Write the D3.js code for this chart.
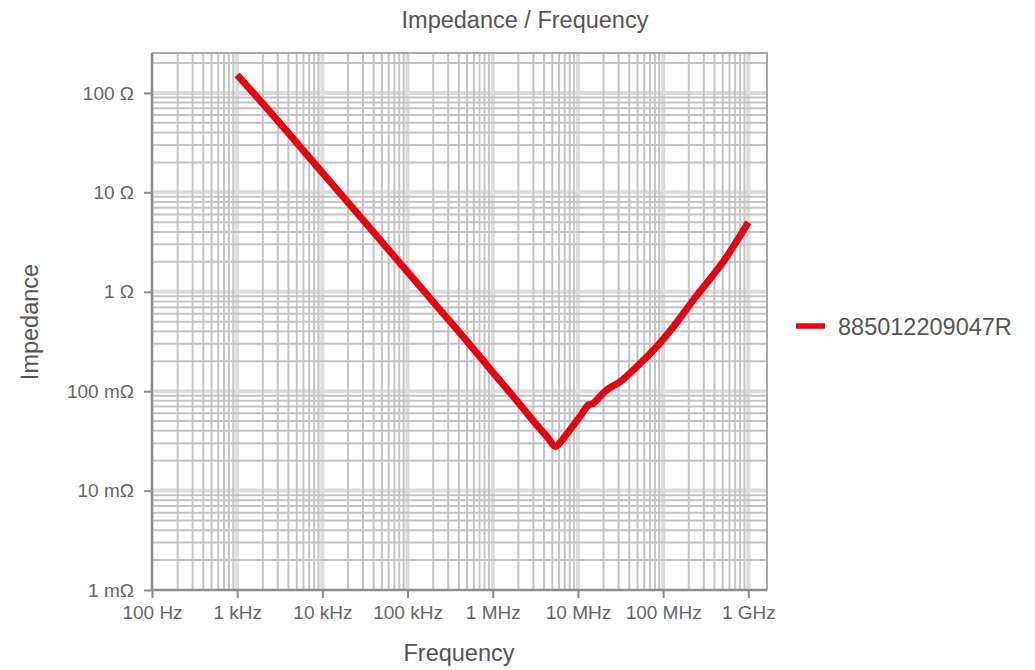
<!DOCTYPE html>
<html>
<head>
<meta charset="utf-8">
<script src="https://cdn.jsdelivr.net/npm/d3@7"></script>
<style>
  html, body { margin: 0; padding: 0; background: #fff; }
  svg text { font-family: "Liberation Sans", Arial, sans-serif; }
</style>
</head>
<body>
<svg id="chart" width="1035" height="670"></svg>
<script>
// Impedance curve of 885012209047R (frequency in Hz, impedance in ohms)
const frequency = [
  1e3, 2e3, 5e3, 1e4, 2e4, 5e4, 1e5, 2e5, 5e5, 1e6,
  1.75e6, 2.5e6, 3.5e6, 4.5e6, 5.4e6, 6.3e6, 7.06e6, 9e6, 11e6, 13.3e6,
  15.2e6, 18e6, 21.8e6, 31.3e6, 49e6, 84e6, 132e6, 226e6, 557e6, 1e9
];
const impedance = [
  152, 78, 31.5, 15.7, 7.9, 3.17, 1.58, 0.79, 0.316, 0.155,
  0.088, 0.0607, 0.0429, 0.0335, 0.0277, 0.031, 0.0352, 0.0462, 0.0583, 0.0726,
  0.0755, 0.088, 0.1028, 0.1245, 0.176, 0.28, 0.445, 0.826, 2.25, 5.0
];
const seriesName = "885012209047R";

const xTickValues = [1e2, 1e3, 1e4, 1e5, 1e6, 1e7, 1e8, 1e9];
const xTickLabels = ["100 Hz", "1 kHz", "10 kHz", "100 kHz", "1 MHz", "10 MHz", "100 MHz", "1 GHz"];
const yTickValues = [1e-3, 1e-2, 1e-1, 1, 10, 100];
const yTickLabels = ["1 mΩ", "10 mΩ", "100 mΩ", "1 Ω", "10 Ω", "100 Ω"];
const xDomain = [100, 1.656e9];
const yDomain = [1e-3, 252];

const svg = d3.select("#chart");
const plot = { left: 152, right: 767, top: 53, bottom: 590 };

const x = d3.scaleLog().domain(xDomain).range([plot.left, plot.right]);
const y = d3.scaleLog().domain(yDomain).range([plot.bottom, plot.top]);

const isDecade = v => Math.abs(Math.log10(v) - Math.round(Math.log10(v))) < 1e-9;

// grid: minor lines at 2..9 of each decade, wider lighter lines at decades
const grid = svg.append("g");
const xGrid = x.ticks().filter(v => v > xDomain[0] && v < xDomain[1]);
const yGrid = y.ticks().filter(v => v > yDomain[0] && v < yDomain[1]);

grid.selectAll("line.vmaj").data(xGrid.filter(isDecade)).join("line")
  .attr("x1", d => x(d)).attr("x2", d => x(d))
  .attr("y1", plot.top).attr("y2", plot.bottom)
  .attr("stroke", "#dcdcdc").attr("stroke-width", 4);
grid.selectAll("line.hmaj").data(yGrid.filter(isDecade)).join("line")
  .attr("y1", d => y(d)).attr("y2", d => y(d))
  .attr("x1", plot.left).attr("x2", plot.right)
  .attr("stroke", "#dcdcdc").attr("stroke-width", 4);
grid.selectAll("line.vmin").data(xGrid.filter(v => !isDecade(v))).join("line")
  .attr("x1", d => x(d)).attr("x2", d => x(d))
  .attr("y1", plot.top).attr("y2", plot.bottom)
  .attr("stroke", "#c4c4c4").attr("stroke-width", 2);
grid.selectAll("line.hmin").data(yGrid.filter(v => !isDecade(v))).join("line")
  .attr("y1", d => y(d)).attr("y2", d => y(d))
  .attr("x1", plot.left).attr("x2", plot.right)
  .attr("stroke", "#c4c4c4").attr("stroke-width", 2);

// frame: top and right border
svg.append("path")
  .attr("d", `M${plot.left},${plot.top}H${plot.right}V${plot.bottom}`)
  .attr("fill", "none").attr("stroke", "#a8a8a8").attr("stroke-width", 2);

// axes
const xAxis = d3.axisBottom(x).tickValues(xTickValues)
  .tickFormat((d, i) => xTickLabels[i]).tickSize(8).tickPadding(8);
const yAxis = d3.axisLeft(y).tickValues(yTickValues)
  .tickFormat((d, i) => yTickLabels[i]).tickSize(8).tickPadding(10);

const gx = svg.append("g").attr("transform", `translate(0,${plot.bottom})`).call(xAxis);
const gy = svg.append("g").attr("transform", `translate(${plot.left},0)`).call(yAxis);
[gx, gy].forEach(g => {
  g.select(".domain").attr("stroke", "#8c8c8c").attr("stroke-width", 2.5);
  g.selectAll(".tick line").attr("stroke", "#8c8c8c").attr("stroke-width", 2);
  g.selectAll(".tick text").attr("fill", "#666").attr("font-size", 19)
    .attr("font-family", "Liberation Sans, Arial, sans-serif");
});
gy.select(".domain").attr("d", `M0,${plot.bottom}V${plot.top}`);
gx.select(".domain").attr("d", `M${plot.left},0H${plot.right}`);

// impedance curve
const points = frequency.map((f, i) => [f, impedance[i]]);
const line = d3.line().x(d => x(d[0])).y(d => y(d[1])).curve(d3.curveMonotoneX);
svg.append("path").datum(points)
  .attr("d", line)
  .attr("fill", "none")
  .attr("stroke", "#e60012")
  .attr("stroke-width", 7)
  .attr("stroke-linejoin", "round")
  .attr("stroke-linecap", "butt");

// titles
svg.append("text").attr("x", 525).attr("y", 28).attr("text-anchor", "middle")
  .attr("font-size", 23.5).attr("fill", "#555").text("Impedance / Frequency");
svg.append("text").attr("x", 459).attr("y", 661).attr("text-anchor", "middle")
  .attr("font-size", 23.5).attr("fill", "#555").text("Frequency");
svg.append("text").attr("transform", "translate(38,322) rotate(-90)")
  .attr("text-anchor", "middle").attr("font-size", 23.5).attr("fill", "#555")
  .text("Impedance");

// legend
const legend = svg.append("g");
legend.append("line").attr("x1", 796).attr("x2", 825).attr("y1", 326).attr("y2", 326)
  .attr("stroke", "#e60012").attr("stroke-width", 5.5);
legend.append("text").attr("x", 838).attr("y", 335).attr("font-size", 23.5)
  .attr("fill", "#555").text(seriesName);
</script>
</body>
</html>
